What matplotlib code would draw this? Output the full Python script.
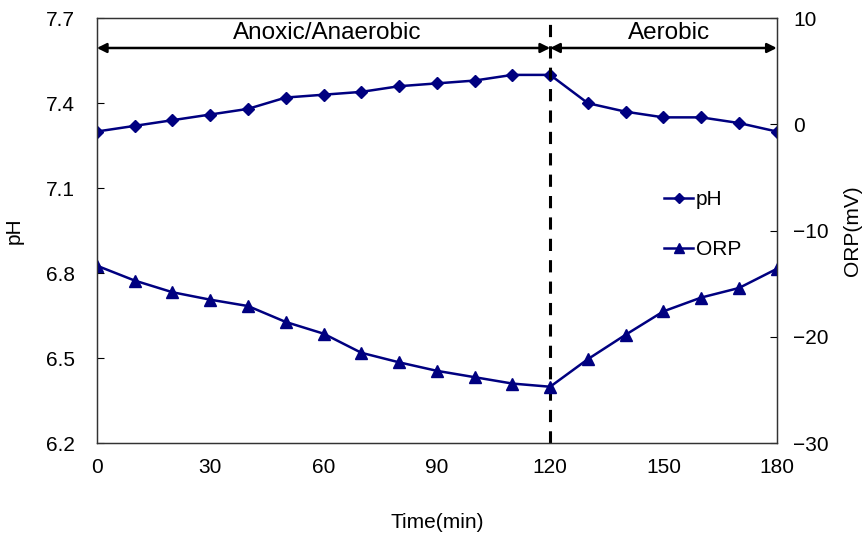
import matplotlib.pyplot as plt

plt.rcParams['font.family'] = ['Liberation Sans', 'DejaVu Sans']

time = [0, 10, 20, 30, 40, 50, 60, 70, 80, 90, 100, 110, 120,
        130, 140, 150, 160, 170, 180]
ph = [7.30, 7.32, 7.34, 7.36, 7.38, 7.42, 7.43, 7.44, 7.46, 7.47, 7.48, 7.50, 7.50,
      7.40, 7.37, 7.35, 7.35, 7.33, 7.30]
orp = [-13.3, -14.7, -15.8, -16.5, -17.1, -18.6, -19.7, -21.5, -22.4, -23.2, -23.8, -24.4, -24.7,
       -22.1, -19.8, -17.6, -16.3, -15.4, -13.6]

ph_ticks = [6.2, 6.5, 6.8, 7.1, 7.4, 7.7]
orp_ticks = [-30, -20, -10, 0, 10]
time_ticks = [0, 30, 60, 90, 120, 150, 180]

navy = '#000080'

fig, ax = plt.subplots(figsize=(8.65, 5.37), dpi=100)
fig.subplots_adjust(left=0.112, right=0.898, bottom=0.175, top=0.966)

l1, = ax.plot(time, ph, color=navy, marker='D', markersize=6, lw=1.8, label='pH')
ax.set_xlim(0, 180)
ax.set_ylim(6.2, 7.7)
ax.set_yticks(ph_ticks)
ax.set_yticklabels([f'{v:.1f}' for v in ph_ticks])
ax.set_xticks(time_ticks)
ax.set_xlabel('Time(min)', fontsize=15, labelpad=26)
ax.set_ylabel('pH', fontsize=15, labelpad=16)
ax.tick_params(axis='y', direction='in', length=5, labelsize=15, pad=16)
ax.tick_params(axis='x', length=0, labelsize=15, pad=11)

ax2 = ax.twinx()
l2, = ax2.plot(time, orp, color=navy, marker='^', markersize=8, lw=1.8, label='ORP')
ax2.set_ylim(-30, 10)
ax2.set_yticks(orp_ticks)
ax2.set_yticklabels([str(v).replace('-', '\u2212') for v in orp_ticks])
ax2.set_ylabel('ORP(mV)', fontsize=15, labelpad=10)
ax2.tick_params(axis='y', direction='in', length=5, labelsize=15, pad=12)

for a in (ax, ax2):
    for s in a.spines.values():
        s.set_color('#333333')
        s.set_linewidth(0.9)

# phase divider and labels
ax.axvline(120, color='black', ls=(0, (4, 3)), lw=2.2)
ax.annotate('', xy=(0, 7.595), xytext=(120, 7.595),
            arrowprops=dict(arrowstyle='<|-|>', color='black', lw=1.8,
                            mutation_scale=14, shrinkA=0, shrinkB=0))
ax.annotate('', xy=(120, 7.595), xytext=(180, 7.595),
            arrowprops=dict(arrowstyle='<|-|>', color='black', lw=1.8,
                            mutation_scale=14, shrinkA=0, shrinkB=0))
ax.text(61, 7.648, 'Anoxic/Anaerobic', ha='center', va='center', fontsize=17.5)
ax.text(151.5, 7.648, 'Aerobic', ha='center', va='center', fontsize=17.5)

ax.legend([l1, l2], ['pH', 'ORP'], loc='upper left', bbox_to_anchor=(0.807, 0.64),
          frameon=False, fontsize=15, handlelength=1.4, handletextpad=0.1,
          labelspacing=1.5, markerscale=0.85)

fig.savefig('out.png', dpi=100)
